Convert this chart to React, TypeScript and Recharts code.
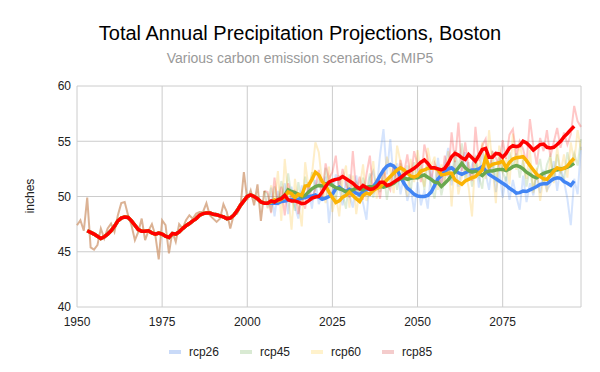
import { LineChart, Line, XAxis, YAxis, CartesianGrid } from "recharts";

// observed annual totals (inches), 1950-2005
const histStart = 1950;
const histPrecip = [
  47.4, 47.85, 46.9, 49.9, 45.4, 45.2, 45.6, 47.1, 46.2, 47.1,
  47.55, 46.8, 48.3, 49.4, 49.5, 48.3, 47.4, 46.05, 46.8, 48.0,
  46.05, 46.9, 47.5, 46.5, 44.3, 47.85, 47.4, 44.85, 46.8, 45.9,
  47.5, 47.1, 47.85, 48.3, 48.0, 48.45, 48.6, 48.6, 49.4, 48.3,
  48.0, 47.7, 48.0, 49.3, 48.6, 47.1, 48.3, 48.45, 49.05, 52.2,
  49.7, 50.55, 49.2, 51.1, 47.8, 50.5,
];

// moving average of the observed years, 1953-2005
const histSmoothStart = 1953;
const histSmooth = [
  46.9, 46.75, 46.6, 46.4, 46.2, 46.35, 46.6, 46.9, 47.3, 47.8,
  48.05, 48.15, 48.1, 47.8, 47.4, 47.0, 46.85, 46.85, 46.9, 46.7,
  46.6, 46.7, 46.6, 46.4, 46.3, 46.65, 46.6, 46.8, 47.1, 47.35,
  47.55, 47.8, 48.0, 48.3, 48.45, 48.5, 48.5, 48.4, 48.35, 48.25,
  48.15, 48.0, 48.05, 48.3, 48.7, 49.2, 49.6, 50.0, 50.15, 50.0,
  49.8, 49.5, 49.4,
];

// projected annual totals, 2006-2098
const projStart = 2006;
const rcp26 = [
  49.0, 50.8, 48.2, 50.5, 49.6, 51.2, 48.4, 50.9, 49.1, 48.0,
  51.0, 49.8, 50.6, 48.9, 51.5, 49.3, 50.2, 51.8, 47.6, 50.4,
  52.0, 50.9, 49.2, 51.6, 50.1, 49.0, 51.9, 50.3, 49.4, 47.9,
  51.7, 52.3, 50.6, 53.8, 56.1, 52.0, 55.2, 51.4, 53.0, 50.2,
  51.9, 49.6, 50.8, 48.6, 51.3, 49.2, 50.6, 48.9, 52.4, 50.8,
  53.5, 51.2, 52.8, 54.4, 51.0, 53.2, 50.9, 52.6, 54.0, 51.5,
  52.9, 53.6, 50.8, 54.2, 52.1, 50.6, 53.1, 50.4, 52.3, 49.9,
  51.8, 49.7, 51.5, 50.0, 48.8, 51.9, 49.5, 51.2, 50.1, 52.0,
  50.3, 52.4, 50.6, 51.1, 53.2, 50.5, 52.7, 51.4, 49.8, 47.4,
  51.6, 50.2, 54.5,
];
const rcp45 = [
  50.2, 48.6, 50.9, 49.3, 51.4, 49.8, 52.1, 50.0, 48.7, 51.3,
  49.4, 51.8, 50.3, 52.2, 50.6, 51.5, 49.9, 52.6, 50.8, 51.4,
  49.6, 51.9, 50.2, 48.9, 52.0, 50.5, 51.2, 49.8, 51.7, 50.3,
  52.1, 49.9, 51.6, 50.4, 52.3, 49.7, 51.8, 52.5, 50.6, 53.0,
  51.2, 52.8, 50.4, 53.1, 51.5, 52.9, 50.6, 53.2, 51.0, 49.8,
  52.3, 50.1, 51.6, 53.0, 51.4, 54.2, 52.5, 54.8, 51.6, 53.1,
  50.9, 53.4, 51.8, 50.7, 53.5, 52.0, 54.1, 51.3, 53.6, 52.2,
  51.4, 54.0, 52.6, 53.9, 51.7, 53.3, 50.9, 52.6, 50.5, 52.3,
  53.4, 51.1, 52.9, 53.7, 51.6, 53.8, 52.2, 51.4, 54.0, 52.6,
  53.9, 52.8, 55.2,
];
const rcp60 = [
  48.9, 51.0, 49.4, 52.3, 47.8, 53.4, 50.2, 47.0, 51.6, 49.5,
  47.3, 53.1, 50.8, 52.0, 54.9, 54.0, 51.2, 49.4, 52.7, 48.6,
  50.1, 48.2, 51.5, 52.8, 49.0, 51.9, 48.4, 50.7, 52.9, 49.6,
  50.4, 53.2, 49.8, 52.1, 51.0, 53.6, 52.4, 50.3, 54.6, 53.1,
  51.2, 50.0, 53.4, 51.3, 54.2, 52.0, 50.9, 54.4, 52.7, 53.6,
  50.6, 52.9, 51.0, 54.1, 49.1, 53.3, 50.2, 51.8, 52.4, 50.8,
  48.2, 53.7, 52.3, 54.9, 51.6, 56.0, 52.8, 49.4, 54.6, 52.2,
  53.5, 51.1, 55.7, 52.4, 54.8, 53.1, 51.6, 54.2, 50.3, 52.6,
  49.6, 51.8, 50.4, 53.6, 51.2, 54.5, 52.1, 53.8, 51.7, 54.9,
  53.1, 56.0, 54.2,
];
const rcp85 = [
  50.4, 48.5, 51.7, 49.2, 50.9, 48.3, 51.2, 49.7, 50.6, 48.4,
  50.1, 48.9, 51.3, 49.6, 50.8, 52.4, 49.9, 53.0, 51.6, 52.2,
  53.7, 50.8, 52.5, 51.1, 49.9, 54.1, 50.4, 51.8, 49.7, 52.0,
  53.7, 50.3, 51.5, 49.8, 52.6, 51.2, 50.6, 52.9, 51.4, 53.3,
  52.0, 53.8, 51.6, 54.1, 52.9, 51.3, 54.7, 53.4, 51.5, 53.0,
  52.2, 50.9, 53.7, 51.8, 55.8, 53.1, 56.7, 52.3, 54.9, 52.6,
  51.4, 56.3, 53.2, 54.6, 55.2, 52.1, 54.0, 53.5, 52.8, 55.1,
  53.4, 55.6, 56.1, 53.7, 55.0, 54.3, 53.0, 57.0, 54.6, 52.9,
  55.3, 54.1, 56.0, 53.6, 54.9, 56.2, 54.4, 55.8, 54.7, 55.6,
  58.2, 56.8, 56.3,
];

// moving averages of the projections, 2006-2096
const smoothStart = 2006;
const rcp26Smooth = [
  49.4, 49.4, 49.4, 49.4, 49.55, 49.6, 49.65, 49.7, 49.7, 49.75,
  49.85, 49.9, 50.0, 50.05, 50.15, 49.95, 49.75, 49.85, 50.0, 50.2,
  50.7, 50.85, 50.6, 50.45, 50.65, 50.5, 50.3, 50.15, 50.45, 50.6,
  50.75, 50.9, 51.3, 51.9, 52.4, 52.75, 52.9, 52.75, 52.4, 51.8,
  51.2, 50.75, 50.5, 50.2, 50.05, 50.0, 50.0, 50.1, 50.4, 51.0,
  51.6, 51.9, 52.25, 52.5, 52.6, 52.35, 52.15, 52.0, 52.15, 52.3,
  52.4, 52.4, 52.5, 52.7, 52.35, 52.0, 51.8, 51.6, 51.4, 51.2,
  51.0, 50.75, 50.55, 50.3, 50.35, 50.5, 50.45, 50.6, 50.75, 50.9,
  51.1, 51.15, 51.15, 51.4, 51.6, 51.7, 51.65, 51.35, 51.2, 51.0,
  51.4,
];
const rcp45Smooth = [
  49.4, 49.5, 49.6, 49.7, 49.9, 50.1, 50.6, 50.45, 50.35, 50.2,
  49.95, 50.1, 50.4, 50.7, 50.9, 51.0, 50.95, 51.15, 51.2, 51.0,
  50.8, 50.7, 50.6, 50.4, 50.5, 50.6, 50.75, 50.7, 50.6, 50.85,
  50.9, 50.85, 51.0, 50.95, 50.85, 50.95, 51.05, 51.2, 51.45, 51.6,
  51.7, 51.55, 51.65, 51.7, 51.7, 51.85, 51.95, 51.75, 51.55, 51.3,
  51.25, 50.9, 51.2, 51.5, 51.9, 52.2, 52.6, 53.0, 52.6, 52.35,
  52.2, 52.3, 52.1, 51.9, 52.2, 52.3, 52.3, 52.4, 52.45, 52.45,
  52.35, 52.5, 52.7, 52.8, 52.7, 52.5, 52.2, 52.0, 51.8, 51.7,
  51.9, 52.1, 52.2, 52.3, 52.4, 52.4, 52.5, 52.55, 52.65, 52.8,
  53.0,
];
const rcp60Smooth = [
  49.4, 49.5, 49.7, 49.6, 49.75, 49.95, 50.4, 50.25, 49.9, 50.2,
  50.1, 50.95, 51.0, 51.55, 52.2, 51.95, 51.35, 51.0, 50.4, 49.9,
  49.45, 49.6, 49.95, 50.1, 50.4, 50.1, 49.8, 49.55, 50.1, 50.3,
  50.2, 50.55, 50.75, 50.85, 51.2, 51.5, 51.8, 52.1, 52.4, 52.6,
  52.4, 52.1, 51.85, 51.75, 51.9, 52.3, 52.4, 52.55, 52.55, 52.55,
  52.45, 51.95, 52.0, 52.1, 52.1, 51.5, 51.3, 51.1, 51.4, 51.55,
  51.7, 51.8, 52.1, 52.4, 53.5, 52.7, 52.9, 53.0, 53.05, 53.2,
  52.6, 53.1, 53.4, 53.5, 53.55, 53.6, 53.25, 52.8, 52.4, 52.0,
  51.8, 51.6, 51.55, 51.9, 52.3, 52.6, 52.45, 52.55, 52.75, 53.15,
  53.45,
];
const rcp85Smooth = [
  49.4, 49.6, 49.5, 49.7, 49.8, 50.1, 49.7, 49.6, 49.6, 49.5,
  49.35, 49.4, 49.6, 49.85, 49.95, 50.0, 50.4, 50.9, 51.3, 51.45,
  51.55, 51.6, 51.8, 51.6, 51.4, 51.2, 50.9, 50.7, 51.0, 50.8,
  50.65, 50.7, 50.9, 51.3, 51.3, 51.0, 51.1, 51.3, 51.5, 51.7,
  51.95, 52.2, 52.35, 52.55, 52.8, 53.1, 53.3, 53.0, 52.6, 52.6,
  52.5, 52.4, 52.55, 53.0, 53.6, 53.9, 53.75, 53.5, 53.35, 53.8,
  53.5, 53.2, 53.7, 54.25, 54.35, 53.55, 53.55, 53.9, 53.85, 53.55,
  53.9, 54.4, 54.6, 54.5, 54.6, 55.0, 54.85, 54.55, 54.2, 54.45,
  54.7, 54.75, 54.45, 54.4, 54.45, 54.7, 55.0, 55.4, 55.7, 56.05,
  56.35,
];

const xTicks = [1950, 1975, 2000, 2025, 2050, 2075];
const yTicks = [40, 45, 50, 55, 60];

const scenarios = [
  { name: "rcp26", annual: rcp26, smooth: rcp26Smooth, color: "#4285f4", light: "#c9daf8" },
  { name: "rcp45", annual: rcp45, smooth: rcp45Smooth, color: "#6aa84f", light: "#d9ead3" },
  { name: "rcp60", annual: rcp60, smooth: rcp60Smooth, color: "#fbb304", light: "#fff2cc" },
  { name: "rcp85", annual: rcp85, smooth: rcp85Smooth, color: "#ff0000", light: "#f4cccc" },
];

function at(arr: number[], start: number, year: number) {
  const i = year - start;
  return i >= 0 && i < arr.length ? arr[i] : null;
}

const rows: Record<string, number | null>[] = [];
for (let year = 1950; year <= 2098; year++) {
  const row: Record<string, number | null> = { year, hist: at(histPrecip, histStart, year) };
  scenarios.forEach((s) => {
    row[s.name] = year === 2005 ? at(histPrecip, histStart, year) : at(s.annual, projStart, year);
    row[s.name + "Avg"] =
      year < smoothStart ? at(histSmooth, histSmoothStart, year) : at(s.smooth, smoothStart, year);
  });
  rows.push(row);
}

const font = "'Liberation Sans', Arial, sans-serif";

export default function App() {
  return (
    <div
      style={{
        position: "absolute",
        left: 0,
        top: 0,
        width: 600,
        height: 372,
        background: "#fff",
        fontFamily: font,
      }}
    >
      <div
        style={{
          position: "absolute",
          top: 21,
          width: 600,
          textAlign: "center",
          fontSize: 20,
          lineHeight: "24px",
          color: "#000",
        }}
      >
        Total Annual Precipitation Projections, Boston
      </div>
      <div
        style={{
          position: "absolute",
          top: 50,
          width: 600,
          textAlign: "center",
          fontSize: 14,
          lineHeight: "16px",
          color: "#999",
        }}
      >
        Various carbon emission scenarios, CMIP5
      </div>
      <div
        style={{
          position: "absolute",
          left: 30,
          top: 196,
          transform: "translate(-50%, -50%) rotate(-90deg)",
          fontSize: 12,
          color: "#222",
        }}
      >
        inches
      </div>

      <LineChart
        width={600}
        height={372}
        data={rows}
        margin={{ top: 86, right: 19, left: 0, bottom: 35 }}
        style={{ fontFamily: font }}
      >
        <CartesianGrid stroke="#cccccc" ticks={yTicks} />
        <XAxis
          dataKey="year"
          type="number"
          domain={[1950, 2098]}
          ticks={xTicks}
          axisLine={false}
          tickLine={false}
          tickSize={0}
          tickMargin={10}
          height={30}
          tick={{ fill: "#222", fontSize: 12 }}
        />
        <YAxis
          type="number"
          domain={[40, 60]}
          ticks={yTicks}
          width={77}
          axisLine={false}
          tickLine={false}
          tickSize={0}
          tickMargin={6}
          tick={{ fill: "#222", fontSize: 12 }}
        />
        <Line
          dataKey="hist"
          stroke="#cf9870"
          strokeOpacity={0.75}
          strokeWidth={2}
          dot={false}
          isAnimationActive={false}
        />
        {scenarios.map((s) => (
          <Line
            key={s.name}
            dataKey={s.name}
            stroke={s.color}
            strokeOpacity={0.22}
            strokeWidth={2}
            dot={false}
            isAnimationActive={false}
          />
        ))}
        {scenarios.map((s) => (
          <Line
            key={s.name + "Avg"}
            dataKey={s.name + "Avg"}
            stroke={s.color}
            strokeWidth={3.5}
            dot={false}
            isAnimationActive={false}
          />
        ))}
      </LineChart>

      <div
        style={{
          position: "absolute",
          top: 345,
          width: 600,
          display: "flex",
          justifyContent: "center",
          fontSize: 12,
          color: "#222",
        }}
      >
        {scenarios.map((s) => (
          <div
            key={s.name}
            style={{ display: "flex", alignItems: "center", margin: "0 10px 0 11px" }}
          >
            <span
              style={{
                display: "inline-block",
                width: 12,
                height: 4,
                background: s.light,
                marginRight: 8,
              }}
            />
            {s.name}
          </div>
        ))}
      </div>
    </div>
  );
}
